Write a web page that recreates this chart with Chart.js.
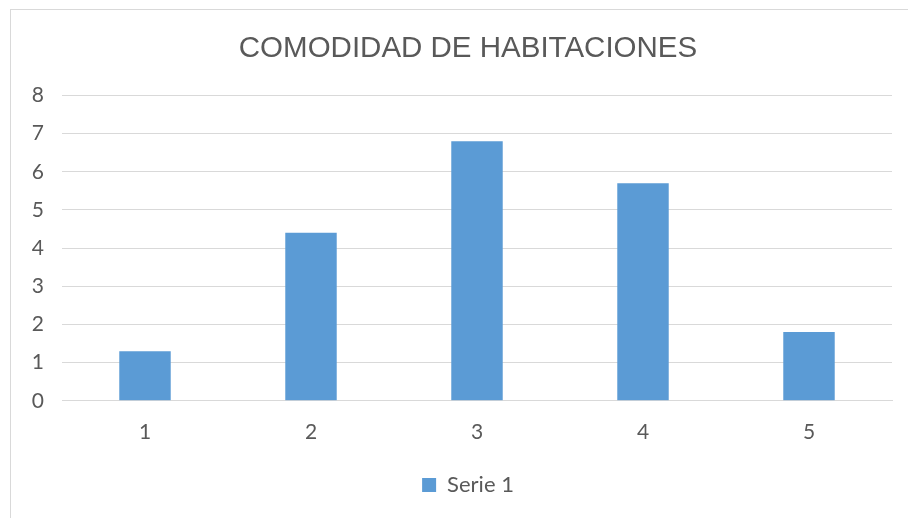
<!DOCTYPE html>
<html>
<head>
<meta charset="utf-8">
<title>Comodidad de habitaciones</title>
<script src="https://cdn.jsdelivr.net/npm/chart.js@4/dist/chart.umd.min.js"></script>
<style>
  html, body { margin:0; padding:0; background:#fff; overflow:hidden; width:908px; height:518px; }
  #frame { position:absolute; left:10px; top:9px; width:940px; height:530px; border:1px solid #d9d9d9; box-sizing:border-box; }
  #wrap { position:absolute; left:0; top:0; width:936px; height:518px; }
</style>
</head>
<body>
<div id="frame"></div>
<div id="wrap"><canvas id="chart" width="936" height="518"></canvas></div>
<script>
// data
const categories = ['1', '2', '3', '4', '5'];
const serie1 = [1.3, 4.4, 6.8, 5.7, 1.8];
const yTicks = [0, 1, 2, 3, 4, 5, 6, 7, 8];

const textColor = '#595959';
const gridColor = '#d9d9d9';
const tickFont = { family: 'Lato, "Open Sans", sans-serif', size: 21 };

new Chart(document.getElementById('chart'), {
  type: 'bar',
  data: {
    labels: categories,
    datasets: [{
      label: 'Serie 1',
      data: serie1,
      backgroundColor: '#5b9bd5',
      borderWidth: 0,
      barPercentage: 0.31,
      categoryPercentage: 1
    }]
  },
  options: {
    responsive: false,
    animation: false,
    layout: { padding: { left: 0, right: 0, top: 0, bottom: 12 } },
    plugins: {
      title: {
        display: true,
        text: 'COMODIDAD DE HABITACIONES',
        color: textColor,
        font: { family: '"Liberation Sans", Arial, sans-serif', size: 29.5, weight: 'normal' },
        padding: { top: 31, bottom: 29 }
      },
      legend: {
        position: 'bottom',
        labels: {
          color: textColor,
          font: { family: tickFont.family, size: 22 },
          boxWidth: 14,
          boxHeight: 14,
          padding: 10
        }
      },
      tooltip: { enabled: false }
    },
    scales: {
      x: {
        grid: { display: false, drawTicks: false },
        border: { display: true, color: gridColor },
        ticks: { color: textColor, font: tickFont, padding: 19 }
      },
      y: {
        min: 0,
        max: yTicks[yTicks.length - 1],
        afterFit: s => { s.width = 62; },
        afterBuildTicks: s => { s.ticks = yTicks.map(v => ({ value: v })); },
        grid: { color: gridColor, lineWidth: 1, drawTicks: false },
        border: { display: false },
        ticks: { color: textColor, font: tickFont, padding: 18 }
      },
      // empty right-hand margin so the plot ends where the reference's does
      yRight: {
        position: 'right',
        min: 0,
        max: yTicks[yTicks.length - 1],
        afterFit: s => { s.width = 44; },
        grid: { display: false, drawOnChartArea: false },
        border: { display: false },
        ticks: { display: false }
      }
    }
  }
});
</script>
</body>
</html>
